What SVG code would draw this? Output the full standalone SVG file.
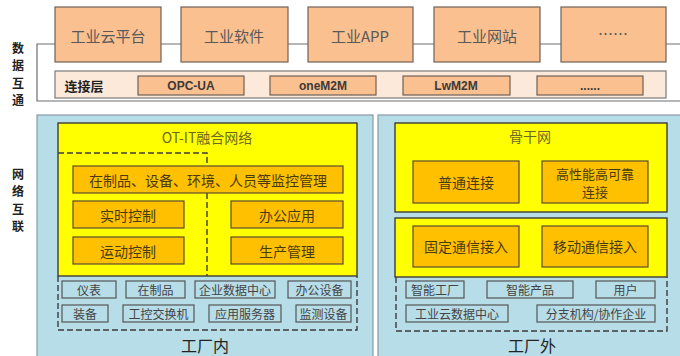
<svg xmlns="http://www.w3.org/2000/svg" width="680" height="356" viewBox="0 0 680 356">
<style>
text{font-family:"Noto Sans CJK SC","Liberation Sans",sans-serif;text-anchor:middle;dominant-baseline:central}
.top{fill:#fac08f;stroke:#6e6258;stroke-width:1.2}
.tt{font-size:15px;fill:#595959}
.pt{font-size:12px;fill:#3a3a3a;font-weight:bold;font-family:"Liberation Sans","Noto Sans CJK SC",sans-serif}
.side{font-size:12px;font-weight:bold;fill:#222}
.blue{fill:#b7dde8;stroke:#8a9aa0;stroke-width:1.2}
.yel{fill:#ffff00;stroke:#3c3c3c;stroke-width:1.4}
.org{fill:#ffc000;stroke:#5a4a30;stroke-width:1.2}
.ot{font-size:14px;fill:#4a3a10}
.yt{font-size:14px;fill:#6a6a20}
.sm{fill:#b7dde8;stroke:#555;stroke-width:1.2}
.st{font-size:12px;fill:#444}
.dash{fill:none;stroke:#3c3c3c;stroke-width:1.4;stroke-dasharray:6 3}
.big{font-size:16px;fill:#222}
.ln{fill:none;stroke:#6e6e6e;stroke-width:1.2}
</style>
<rect width="680" height="356" fill="#ffffff"/>
<g id="connectors">
<path class="ln" d="M680,44 H37 V101 H680"/>
</g>
<g id="label-data"><text class="side" x="18" y="47">数</text><text class="side" x="18" y="64.5">据</text><text class="side" x="18" y="82">互</text><text class="side" x="18" y="99.5">通</text></g>
<g id="label-net"><text class="side" x="18" y="173">网</text><text class="side" x="18" y="190.5">络</text><text class="side" x="18" y="208">互</text><text class="side" x="18" y="225.5">联</text></g>
<g id="n-cloud"><rect class="top" x="55" y="7" width="106" height="55"/><text class="tt" x="108" y="35">工业云平台</text></g>
<g id="n-soft"><rect class="top" x="181" y="7" width="107" height="55"/><text class="tt" x="234" y="35">工业软件</text></g>
<g id="n-app"><rect class="top" x="308" y="7" width="105" height="55"/><text class="tt" x="360" y="35">工业APP</text></g>
<g id="n-web"><rect class="top" x="434" y="7" width="106" height="55"/><text class="tt" x="487" y="35">工业网站</text></g>
<g id="n-more"><rect class="top" x="561" y="7" width="105" height="55"/><text class="tt" x="613" y="33">……</text></g>
<g id="n-layer">
<rect x="55" y="71" width="611" height="27" fill="#fde9d9" stroke="#7a7a7a" stroke-width="1.2"/>
<text class="side" x="84" y="85" style="font-size:13px">连接层</text>
<rect class="top" x="138" y="76" width="106" height="19"/><text class="pt" x="191" y="85.5">OPC-UA</text>
<rect class="top" x="270" y="76" width="106" height="19"/><text class="pt" x="323" y="85.5">oneM2M</text>
<rect class="top" x="403" y="76" width="107" height="19"/><text class="pt" x="456" y="85.5">LwM2M</text>
<rect class="top" x="537" y="76" width="106" height="19"/><text class="pt" x="590" y="86">......</text>
</g>
<g id="n-inside">
<rect class="blue" x="37" y="115" width="336" height="245"/>
<rect class="yel" x="58" y="123" width="299" height="153"/>
<text class="yt" x="207" y="137">OT-IT融合网络</text>
<path class="dash" d="M58,153 H207 V276"/>
<path class="dash" d="M58,276 V330 H357 V276"/>
<rect class="org" x="73" y="166" width="270" height="27"/><text class="ot" x="208" y="180">在制品、设备、环境、人员等监控管理</text>
<rect class="org" x="73" y="201" width="111" height="27"/><text class="ot" x="128" y="215">实时控制</text>
<rect class="org" x="231" y="201" width="112" height="27"/><text class="ot" x="287" y="215">办公应用</text>
<rect class="org" x="73" y="237" width="111" height="27"/><text class="ot" x="128" y="251">运动控制</text>
<rect class="org" x="231" y="237" width="112" height="27"/><text class="ot" x="287" y="251">生产管理</text>
<rect class="sm" x="62" y="281" width="54" height="17"/><text class="st" x="89" y="289.5">仪表</text>
<rect class="sm" x="126" y="281" width="59" height="17"/><text class="st" x="155.5" y="289.5">在制品</text>
<rect class="sm" x="195" y="281" width="80" height="17"/><text class="st" x="235" y="289.5">企业数据中心</text>
<rect class="sm" x="288" y="281" width="63" height="17"/><text class="st" x="319.5" y="289.5">办公设备</text>
<rect class="sm" x="62" y="305" width="46" height="17"/><text class="st" x="85" y="313.5">装备</text>
<rect class="sm" x="123" y="305" width="71" height="17"/><text class="st" x="158.5" y="313.5">工控交换机</text>
<rect class="sm" x="209" y="305" width="72" height="17"/><text class="st" x="245" y="313.5">应用服务器</text>
<rect class="sm" x="296" y="305" width="55" height="17"/><text class="st" x="323.5" y="313.5">监测设备</text>
<text class="big" x="205" y="345">工厂内</text>
</g>
<g id="n-outside">
<rect class="blue" x="378" y="115" width="304" height="245"/>
<rect class="yel" x="395" y="123" width="272" height="89"/>
<text class="yt" x="530" y="136">骨干网</text>
<rect class="org" x="413" y="161" width="106" height="42"/><text class="ot" x="466" y="182">普通连接</text>
<rect class="org" x="542" y="161" width="106" height="42"/><text class="ot" x="595" y="173.5" style="font-size:13px">高性能高可靠</text><text class="ot" x="595" y="191" style="font-size:13px">连接</text>
<rect class="yel" x="395" y="218" width="272" height="59"/>
<rect class="org" x="413" y="226" width="106" height="41"/><text class="ot" x="466" y="246">固定通信接入</text>
<rect class="org" x="542" y="226" width="106" height="41"/><text class="ot" x="595" y="246">移动通信接入</text>
<path class="dash" d="M396,277 V331 H667 V277"/>
<rect class="sm" x="406" y="281" width="58" height="17"/><text class="st" x="435" y="289.5">智能工厂</text>
<rect class="sm" x="487" y="281" width="86" height="17"/><text class="st" x="530" y="289.5">智能产品</text>
<rect class="sm" x="596" y="281" width="59" height="17"/><text class="st" x="625.5" y="289.5">用户</text>
<rect class="sm" x="406" y="305" width="102" height="17"/><text class="st" x="457" y="313.5">工业云数据中心</text>
<rect class="sm" x="537" y="305" width="118" height="17"/><text class="st" x="596" y="313.5">分支机构/协作企业</text>
<text class="big" x="532" y="345">工厂外</text>
</g>
</svg>
